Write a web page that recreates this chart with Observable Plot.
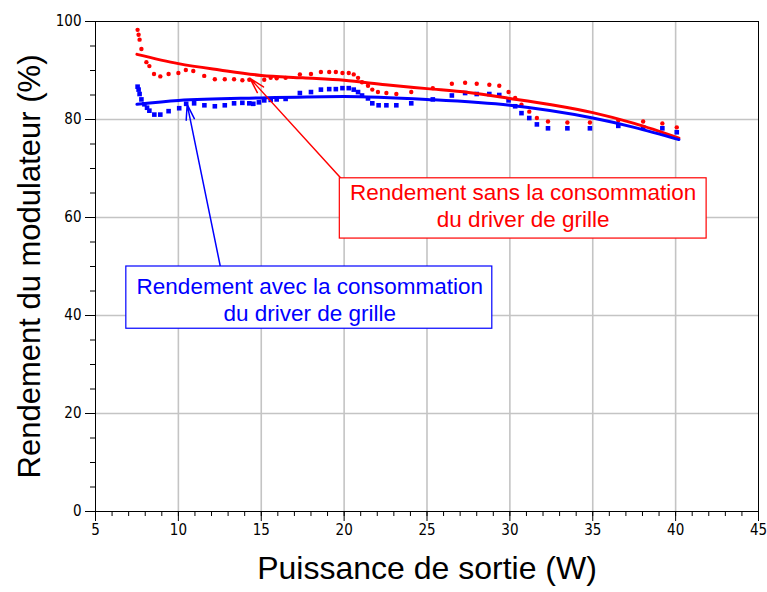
<!DOCTYPE html>
<html>
<head>
<meta charset="utf-8">
<script src="https://cdn.jsdelivr.net/npm/d3@7"></script>
<script src="https://cdn.jsdelivr.net/npm/@observablehq/plot@0.6"></script>
<style>
  body { margin: 0; background: #fff; }
  #chart svg { display: block; }
</style>
</head>
<body>
<div id="chart"></div>
<script>
// Measured points: "sans driver" (red circles)
const redX = [7.54, 7.6, 7.66, 7.77, 8.07, 8.25, 8.53, 8.91, 9.41, 10.0, 10.45, 10.9, 11.56, 12.2, 12.8, 13.36, 13.86, 14.28, 15.18, 15.57, 15.93, 16.47, 17.33, 18.0, 18.6, 19.1, 19.5, 19.9, 20.28, 20.58, 20.84, 21.08, 21.44, 21.7, 22.04, 22.55, 23.15, 24.05, 25.35, 26.5, 27.3, 28.0, 28.76, 29.36, 29.92, 30.32, 30.7, 31.17, 31.63, 32.3, 33.47, 34.83, 36.54, 38.04, 39.2, 40.07];
const redY = [98.3, 97.3, 96.3, 94.4, 91.7, 90.9, 89.3, 88.8, 89.3, 89.5, 90.1, 89.9, 88.9, 88.2, 88.2, 88.2, 88.0, 88.1, 88.1, 88.5, 88.4, 88.5, 89.2, 89.3, 89.7, 89.7, 89.7, 89.5, 89.5, 89.2, 88.5, 87.6, 86.9, 86.1, 85.6, 85.4, 85.2, 85.6, 86.4, 87.3, 87.5, 87.3, 87.1, 86.9, 85.6, 84.4, 83.0, 81.6, 80.3, 79.6, 79.4, 79.4, 79.8, 79.6, 79.2, 78.4];
// Measured points: "avec driver" (blue squares)
const blueX = [7.54, 7.6, 7.66, 7.77, 7.95, 8.11, 8.25, 8.55, 8.91, 9.41, 10.05, 10.47, 10.95, 11.57, 12.2, 12.8, 13.36, 13.86, 14.28, 14.52, 14.86, 15.18, 15.57, 15.93, 16.47, 17.33, 18.0, 18.6, 19.1, 19.5, 19.9, 20.28, 20.58, 20.84, 21.08, 21.44, 21.7, 22.08, 22.55, 23.15, 24.05, 25.35, 26.5, 27.3, 28.0, 28.76, 29.36, 29.92, 30.32, 30.7, 31.17, 31.63, 32.3, 33.47, 34.83, 36.54, 38.04, 39.2, 40.07];
const blueY = [86.7, 86.1, 85.2, 84.1, 83.1, 82.4, 81.8, 81.0, 81.0, 81.7, 82.3, 83.2, 83.3, 82.9, 82.7, 82.9, 83.3, 83.4, 83.3, 83.2, 83.5, 83.9, 84.0, 84.1, 84.2, 85.4, 85.6, 86.1, 86.2, 86.2, 86.4, 86.4, 86.1, 85.6, 84.9, 84.3, 83.3, 82.9, 82.9, 82.9, 83.3, 84.1, 84.9, 85.4, 85.2, 85.2, 85.0, 83.9, 82.7, 81.3, 80.3, 79.0, 78.2, 78.2, 78.2, 78.7, 78.4, 78.2, 77.4];
// Fitted trend curves
const redFitX = [7.5, 10, 12.5, 15, 17.5, 20, 22.5, 25, 27.5, 30, 32.5, 35, 37.5, 40.2];
const redFitY = [93.3, 91.4, 90.1, 89.0, 88.5, 88.0, 87.1, 86.3, 85.5, 84.3, 83.0, 81.4, 79.2, 76.2];
const blueFitX = [7.5, 10, 15, 20, 25, 30, 35, 37.5, 40.2];
const blueFitY = [83.1, 83.9, 84.4, 84.7, 84.1, 82.9, 80.3, 78.4, 75.9];

const xTicks = [5, 10, 15, 20, 25, 30, 35, 40, 45];
const yTicks = [0, 20, 40, 60, 80, 100];
const xGrid = [10, 15, 20, 25, 30, 35, 40];
const yGrid = [20, 40, 60, 80];

const redLabel = "Rendement sans la consommation\ndu driver de grille";
const blueLabel = "Rendement avec la consommation\ndu driver de grille";
const xLabel = "Puissance de sortie (W)";
const yLabel = "Rendement du modulateur (%)";

const red = d3.zip(redX, redY).map(([x, y]) => ({x, y}));
const blue = d3.zip(blueX, blueY).map(([x, y]) => ({x, y}));
const redFit = d3.zip(redFitX, redFitY).map(([x, y]) => ({x, y}));
const blueFit = d3.zip(blueFitX, blueFitY).map(([x, y]) => ({x, y}));

// annotation boxes and arrows (data coordinates)
const notes = [
  {x1: 19.74, x2: 41.87, y1: 55.7, y2: 68.0, tx: 30.8, ty: 62.5, ax1: 19.92, ay1: 67.6, ax2: 14.32, ay2: 88.4, color: "#ff0000", text: redLabel},
  {x1: 6.86, x2: 28.94, y1: 37.3, y2: 50.0, tx: 17.93, ty: 43.4, ax1: 12.52, ay1: 50.2, ax2: 10.53, ay2: 83.1, color: "#0000ff", text: blueLabel}
];

const tickFont = "DejaVu Sans Condensed";
const labelFont = "Liberation Sans, Arial, sans-serif";

const chart = Plot.plot({
  width: 767,
  height: 592,
  marginLeft: 95,
  marginRight: 9,
  marginTop: 21,
  marginBottom: 81,
  x: {domain: [5, 45]},
  y: {domain: [0, 100]},
  style: {background: "white", color: "black"},
  marks: [
    Plot.gridX(xGrid, {stroke: "#c4c4c4", strokeOpacity: 1, strokeWidth: 1.6}),
    Plot.gridY(yGrid, {stroke: "#c4c4c4", strokeOpacity: 1, strokeWidth: 1.6}),
    Plot.axisX(d3.range(5, 46, 1), {tickSize: 5, tickFormat: () => "", label: null}),
    Plot.axisX(xTicks, {tickSize: 10, tickPadding: 3, fontSize: 15, fontFamily: tickFont, label: null}),
    Plot.axisY(d3.range(0, 101, 5), {tickSize: 5, tickFormat: () => "", label: null}),
    Plot.axisY(yTicks, {tickSize: 10, tickPadding: 4, fontSize: 15, fontFamily: tickFont, label: null}),
    Plot.frame({stroke: "black", strokeWidth: 1}),
    Plot.dot(red, {x: "x", y: "y", r: 2.2, fill: "#ff0000", stroke: "none"}),
    Plot.dot(blue, {x: "x", y: "y", r: 2.6, symbol: "square", fill: "#0000ff", stroke: "none"}),
    Plot.line(redFit, {x: "x", y: "y", stroke: "#ff0000", strokeWidth: 3, curve: "monotone-x"}),
    Plot.line(blueFit, {x: "x", y: "y", stroke: "#0000ff", strokeWidth: 3, curve: "monotone-x"}),
    Plot.arrow(notes, {x1: "ax1", y1: "ay1", x2: "ax2", y2: "ay2", stroke: "color", strokeWidth: 1.5, headLength: 16, headAngle: 30}),
    Plot.rect(notes, {x1: "x1", x2: "x2", y1: "y1", y2: "y2", fill: "white", stroke: "color", strokeWidth: 1.2}),
    Plot.text(notes, {x: "tx", y: "ty", text: "text", fill: "color", fontSize: 22.5, fontFamily: labelFont, lineHeight: 1.2, textAnchor: "middle"}),
    Plot.text([yLabel], {frameAnchor: "left", dx: -65, rotate: -90, textAnchor: "middle", fontSize: 31, fontFamily: labelFont, fill: "black"}),
    Plot.text([xLabel], {frameAnchor: "bottom", dy: 67, textAnchor: "middle", fontSize: 32, fontFamily: labelFont, fill: "black"})
  ]
});
document.getElementById("chart").append(chart);
</script>
</body>
</html>
